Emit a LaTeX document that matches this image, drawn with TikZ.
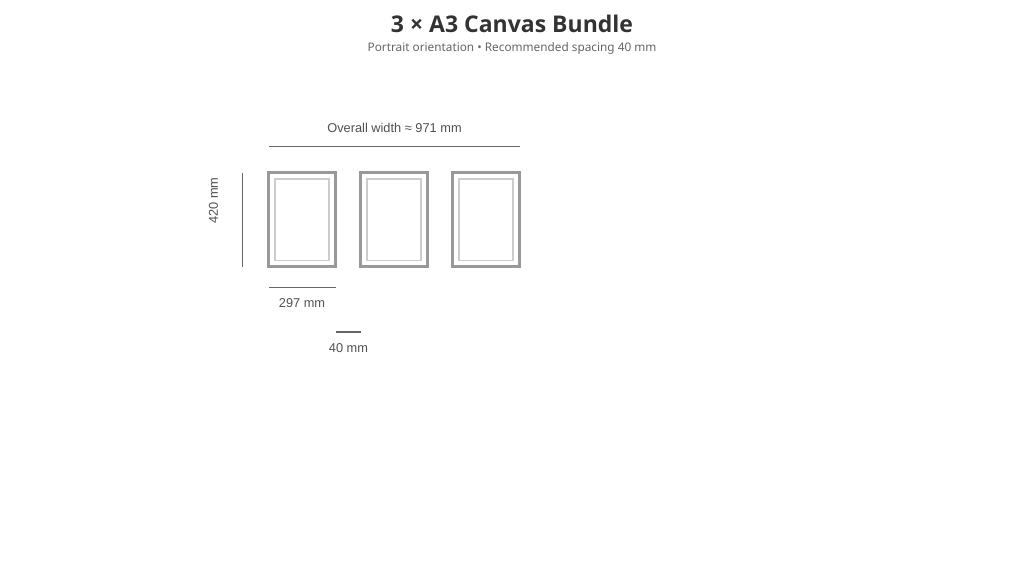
\documentclass[tikz,border=0pt]{standalone}
\usepackage{fontspec}
\setmainfont{Liberation Sans}
\newfontfamily\notofont{Noto Sans}
\newfontfamily\opensansfont{Open Sans}
\definecolor{titlec}{HTML}{333333}
\definecolor{subc}{HTML}{666666}
\definecolor{labc}{HTML}{505050}
\definecolor{linec}{HTML}{666666}
\definecolor{framec}{HTML}{999999}
\definecolor{innerc}{HTML}{CCCCCC}
\begin{document}
\begin{tikzpicture}[x=1pt,y=-1pt,
  frameout/.style={draw=framec,line width=3pt},
  framein/.style={draw=innerc,line width=1.5pt},
  dimline/.style={draw=linec,line width=1.2pt},
  lab/.style={text=labc,font=\fontsize{12.8}{15}\selectfont,inner sep=0pt}]
\useasboundingbox[fill=white] (0,0) rectangle (1024,576);
\node[text=titlec,font=\opensansfont\bfseries\fontsize{23}{27}\selectfont,inner sep=0pt] (title) at (512,23.5) {3 × A3 Canvas Bundle};
\node[text=subc,font=\notofont\fontsize{11.8}{14}\selectfont,inner sep=0pt] (sub) at (512,48) {Portrait orientation • Recommended spacing 40 mm};
% frames
\foreach \i/\x in {1/268,2/360,3/452}{
  \draw[frameout] (\x,172.5) rectangle ++(67.5,94);
  \draw[framein] (\x+7,179) rectangle ++(54,81.5);
}
% overall width
\coordinate (ow1) at (269,146.7);
\coordinate (ow2) at (519.5,146.7);
\draw[dimline] (ow1) -- (ow2);
\node[lab] (owl) at (394.5,127.5) {Overall width ≈ 971 mm};
% height
\coordinate (h1) at (242.7,172.5);
\coordinate (h2) at (242.7,266.5);
\draw[dimline] (h1) -- (h2);
\node[lab,rotate=90] (hl) at (213.5,200.5) {420 mm};
% 297
\coordinate (w1) at (269,287.5);
\coordinate (w2) at (335.5,287.5);
\draw[dimline] (w1) -- (w2);
\node[lab] (wl) at (302,303) {297 mm};
% 40
\coordinate (s1) at (335.5,332);
\coordinate (s2) at (360.5,332);
\draw[dimline] (s1) -- (s2);
\node[lab] (sl) at (348.5,348) {40 mm};
\end{tikzpicture}
\end{document}
